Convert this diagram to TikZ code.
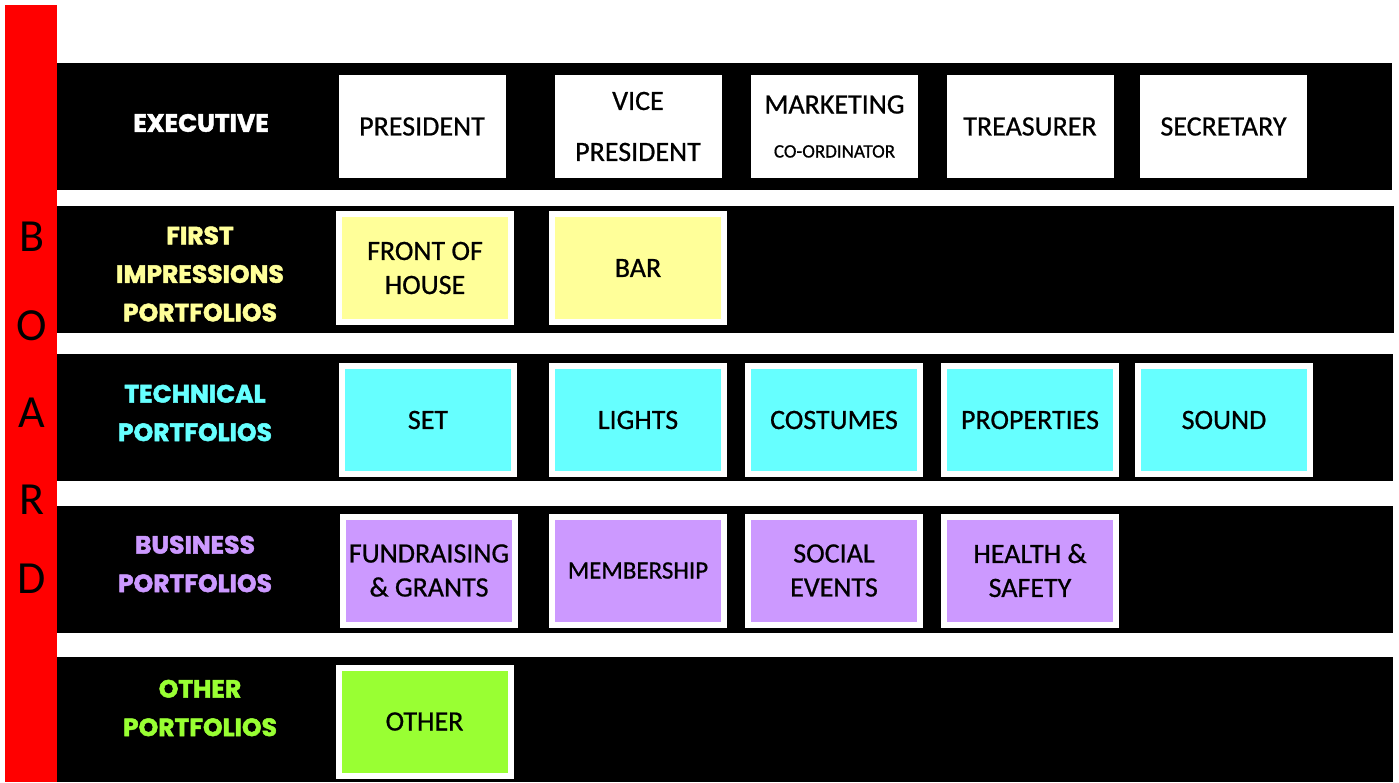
\documentclass[tikz,border=0pt]{standalone}
\usepackage{fontspec}
\setmainfont{Carlito}[FakeBold=0.7]
\newfontfamily\labelfont{Poppins}[BoldFeatures={FakeBold=2}]
\definecolor{boardred}{HTML}{FF0000}
\definecolor{fohyellow}{HTML}{FFFF99}
\definecolor{techcyan}{HTML}{66FFFF}
\definecolor{buslilac}{HTML}{CC99FF}
\definecolor{othergreen}{HTML}{99FF33}
\newfontfamily\boardfont{Carlito}
\tikzset{
  band/.style={fill=black, draw=none},
  rowlabel/.style={font=\labelfont\bfseries\fontsize{25}{38.5}\selectfont, align=center, inner sep=0pt},
  execbox/.style={fill=white, draw=none, minimum width=167pt, minimum height=103pt, inner sep=0pt,
    align=center, font=\fontsize{28}{34}\selectfont},
  pbox/.style={fill=#1, draw=white, line width=6pt, minimum width=172pt, minimum height=108pt,
    inner sep=0pt, align=center, font=\fontsize{28}{34}\selectfont},
  boardletter/.style={font=\boardfont\fontsize{46}{46}\selectfont, text=black, inner sep=0pt}
}
\begin{document}
\begin{tikzpicture}[x=1pt, y=-1pt]
\useasboundingbox (0,0) rectangle (1399,782);
\fill[white] (0,0) rectangle (1399,782);

% side bar carrying the word BOARD
\fill[boardred] (5,5) rectangle (57,782);
\node[boardletter] (bB) at (32,237) {B};
\node[boardletter] (bO) at (32,326) {O};
\node[boardletter] (bA) at (32,413) {A};
\node[boardletter] (bR) at (32,500) {R};
\node[boardletter] (bD) at (32,579) {D};

% black row bands
\fill[band] (57,63) rectangle (1392,190);
\fill[band] (57,206) rectangle (1394,333);
\fill[band] (57,354) rectangle (1393,481);
\fill[band] (57,506) rectangle (1393,633);
\fill[band] (57,657) rectangle (1393,782);

% row headings
\node[rowlabel, text=white] (lexec) at (201,123) {EXECUTIVE};
\node[rowlabel, text=fohyellow] (lfirst) at (200,274) {FIRST\\IMPRESSIONS\\PORTFOLIOS};
\node[rowlabel, text=techcyan] (ltech) at (195,413) {TECHNICAL\\PORTFOLIOS};
\node[rowlabel, text=buslilac] (lbus) at (195,564) {BUSINESS\\PORTFOLIOS};
\node[rowlabel, text=othergreen] (lother) at (200,708) {OTHER\\PORTFOLIOS};

% executive
\node[execbox] (pres) at (422,126.5) {PRESIDENT};
\node[execbox] (vice) at (638,126.5) {VICE\\[17pt]PRESIDENT};
\node[execbox] (mkt) at (834.5,126.5) {MARKETING\\[10pt]{\fontsize{19}{22}\selectfont CO-ORDINATOR}};
\node[execbox] (treas) at (1030,126.5) {TREASURER};
\node[execbox] (sec) at (1223.5,126.5) {SECRETARY};

% first impressions portfolios
\node[pbox=fohyellow] (foh) at (425,268) {FRONT OF\\HOUSE};
\node[pbox=fohyellow] (bar) at (638,268) {BAR};

% technical portfolios
\node[pbox=techcyan] (set) at (428,420) {SET};
\node[pbox=techcyan] (lights) at (638,420) {LIGHTS};
\node[pbox=techcyan] (cost) at (834,420) {COSTUMES};
\node[pbox=techcyan] (props) at (1030,420) {PROPERTIES};
\node[pbox=techcyan] (sound) at (1224,420) {SOUND};

% business portfolios
\node[pbox=buslilac] (fund) at (429,570.5) {FUNDRAISING\\\& GRANTS};
\node[pbox=buslilac, font=\fontsize{25}{30}\selectfont] (memb) at (638,570.5) {MEMBERSHIP};
\node[pbox=buslilac] (social) at (834,570.5) {SOCIAL\\EVENTS};
\node[pbox=buslilac] (health) at (1030,570.5) {HEALTH \&\\SAFETY};

% other portfolios
\node[pbox=othergreen] (other) at (424.5,721.5) {OTHER};
\end{tikzpicture}
\end{document}
